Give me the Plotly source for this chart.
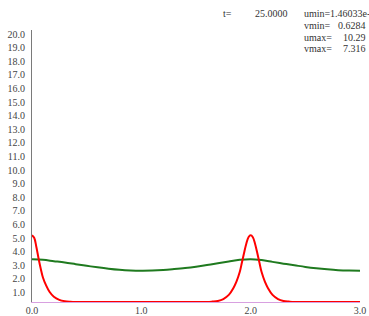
import plotly.graph_objects as go

# ---- data ----
x_u = [0.0, 0.02, 0.04, 0.06, 0.08, 0.10, 0.13, 0.16, 0.20, 0.25, 0.30, 0.35, 0.40,
       0.8, 1.2, 1.60, 1.65, 1.70, 1.75, 1.80, 1.84, 1.87, 1.90, 1.92, 1.94, 1.96,
       1.98, 2.00, 2.02, 2.04, 2.06, 2.08, 2.10, 2.13, 2.16, 2.20, 2.25, 2.30,
       2.35, 2.40, 2.8, 3.0]
u = [4.9, 4.72, 4.05, 3.2, 2.45, 1.8, 1.2, 0.75, 0.38, 0.16, 0.06, 0.02, 0.0,
     0.0, 0.0, 0.0, 0.03, 0.08, 0.22, 0.52, 1.0, 1.5, 2.2, 2.9, 3.62, 4.28,
     4.76, 4.9, 4.76, 4.28, 3.62, 2.9, 2.2, 1.5, 1.0, 0.52, 0.22, 0.08,
     0.03, 0.0, 0.0, 0.0]

x_v = [0.0, 0.1, 0.2, 0.3, 0.4, 0.5, 0.6, 0.7, 0.8, 0.9, 1.0, 1.1, 1.2, 1.3, 1.4,
       1.5, 1.6, 1.7, 1.8, 1.9, 2.0, 2.1, 2.2, 2.3, 2.4, 2.5, 2.6, 2.7, 2.8, 2.9, 3.0]
v = [3.15, 3.1, 3.0, 2.9, 2.78, 2.66, 2.55, 2.45, 2.37, 2.32, 2.3, 2.31, 2.35, 2.42,
     2.5, 2.6, 2.72, 2.85, 2.98, 3.1, 3.15, 3.08, 2.95, 2.82, 2.7, 2.58, 2.48, 2.4,
     2.34, 2.31, 2.3]

y_ticks = [float(i) for i in range(1, 21)]
x_ticks = [0.0, 1.0, 2.0, 3.0]

t_value = "25.0000"
stats_labels = ["umin=", "vmin=", "umax=", "vmax="]
stats_values = ["1.46033e-", "0.6284", "10.29", "7.316"]

# ---- figure ----
W, H = 369, 316
ML, MR, MT, MB = 32, 9, 30, 14
PW, PH = W - ML - MR, H - MT - MB

def px(xp):
    return (xp - ML) / PW

def py(yp):
    return (H - MB - yp) / PH

fig = go.Figure()
fig.add_trace(go.Scatter(x=x_v, y=v, mode="lines", line=dict(color="#1f7a1f", width=2), line_shape="spline"))
fig.add_trace(go.Scatter(x=x_u, y=u, mode="lines", line=dict(color="#ff0000", width=2), line_shape="spline"))

tfont = dict(family="Liberation Serif", size=10, color="#444444")

fig.update_layout(
    width=W, height=H,
    margin=dict(l=ML, r=MR, t=MT, b=MB, pad=0, autoexpand=False),
    paper_bgcolor="white", plot_bgcolor="white",
    showlegend=False,
    xaxis=dict(range=[0, 3], tickvals=x_ticks, ticktext=[f"{t:.1f}" for t in x_ticks],
               showgrid=False, zeroline=False, showline=True, linecolor="#d8a0e0",
               linewidth=1, ticks="", tickfont=tfont, layer="below traces",
               automargin=False, ticklabelstandoff=-1),
    yaxis=dict(range=[0, 20], tickvals=y_ticks, ticktext=[f"{t:.1f}" for t in y_ticks],
               showgrid=False, zeroline=False, showline=True, linecolor="#7a7a7a",
               linewidth=1, ticks="", tickfont=tfont, ticklabelshift=4,
               ticklabelstandoff=4, layer="below traces", automargin=False),
)

afont = dict(family="Liberation Serif", size=10, color="#333333")
anns = [
    dict(x=px(221), y=py(13), text="t=", xanchor="left"),
    dict(x=px(253), y=py(13), text=t_value, xanchor="left"),
]
rows_y = [13, 25, 37, 49]
for lab, val, yy in zip(stats_labels, stats_values, rows_y):
    anns.append(dict(x=px(302), y=py(yy), text=lab, xanchor="left"))
    if val.endswith("-"):
        anns.append(dict(x=px(328), y=py(yy), text=val, xanchor="left"))
    else:
        anns.append(dict(x=px(368), y=py(yy), text=val, xanchor="right"))
for a in anns:
    a.update(xref="paper", yref="paper", yanchor="middle", showarrow=False, font=afont)
fig.update_layout(annotations=anns)

fig.write_html("out.html", config={"displayModeBar": False},
               post_script="document.body.style.margin='0';document.body.style.overflow='hidden';")
